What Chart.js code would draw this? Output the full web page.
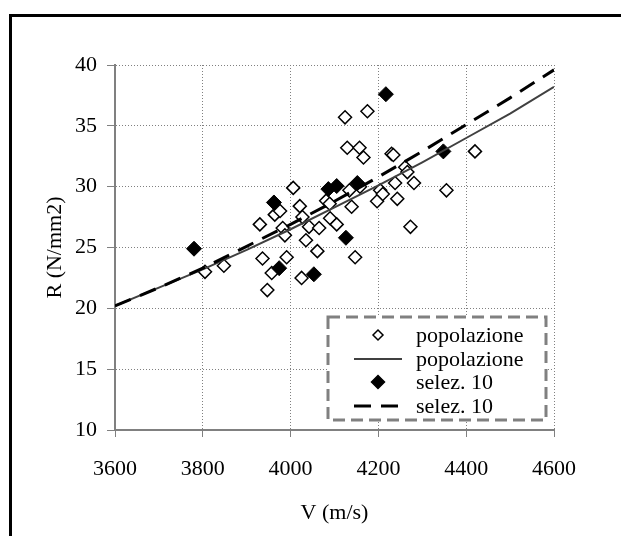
<!DOCTYPE html>
<html>
<head>
<meta charset="utf-8">
<script src="https://cdn.jsdelivr.net/npm/chart.js@4/dist/chart.umd.min.js"></script>
<style>
  html, body { margin: 0; padding: 0; background: #fff; }
  canvas { display: block; }
</style>
</head>
<body>
<canvas id="chartCanvas" width="621" height="536"></canvas>
<script>
// popolazione - open diamonds
const popV = [3805, 3848, 3930, 3936, 3947, 3957, 3964, 3976, 3982, 3987, 3991, 4006, 4021, 4027, 4025,
              4035, 4042, 4061, 4065, 4081, 4089, 4090, 4105, 4124, 4129, 4134, 4139, 4147, 4158, 4157,
              4166, 4175, 4197, 4204, 4210, 4230, 4234, 4238, 4243, 4261, 4266, 4273, 4281, 4355, 4420];
const popR = [23.0, 23.5, 26.9, 24.1, 21.5, 22.9, 27.7, 28.0, 26.6, 26.0, 24.2, 29.9, 28.4, 27.5, 22.5,
              25.6, 26.7, 24.7, 26.6, 28.85, 28.6, 27.4, 26.9, 35.7, 33.2, 29.7, 28.35, 24.2, 30.0, 33.2,
              32.4, 36.2, 28.8, 29.7, 29.4, 32.7, 32.6, 30.3, 29.0, 31.6, 31.2, 26.7, 30.3, 29.7, 32.9];

// selez. 10 - filled diamonds
const selV = [3780, 3962, 3974, 4053, 4086, 4105, 4126, 4152, 4217, 4348];
const selR = [24.9, 28.7, 23.3, 22.8, 29.8, 30.05, 25.8, 30.3, 37.6, 32.9];

// trend curves
const curveV = [3600, 3700, 3800, 3900, 4000, 4100, 4200, 4300, 4400, 4500, 4600];
const popCurveR = [20.2, 21.7, 23.2, 24.8, 26.5, 28.3, 30.1, 32.0, 34.0, 36.0, 38.2];
const selCurveR = [20.2, 21.7, 23.3, 25.1, 26.9, 28.8, 30.8, 32.9, 35.1, 37.3, 39.6];

const xTicks = [3600, 3800, 4000, 4200, 4400, 4600];
const yTicks = [10, 15, 20, 25, 30, 35, 40];

const toPoints = (xs, ys) => xs.map((x, i) => ({ x: x, y: ys[i] }));

const FONT = 'Liberation Serif, Times New Roman, serif';

// outer black frame
const framePlugin = {
    id: 'frame',
    beforeDraw(chart) {
        const ctx = chart.ctx;
        ctx.save();
        ctx.fillStyle = '#fff';
        ctx.fillRect(0, 0, chart.width, chart.height);
        ctx.strokeStyle = '#000';
        ctx.lineWidth = 3;
        ctx.strokeRect(10.5, 15.5, 700, 700);
        ctx.restore();
    }
};

// legend box with dashed grey border, inside the plot
const legendBox = {
    id: 'legendBox',
    afterDraw(chart) {
        const ctx = chart.ctx;
        const ds = chart.data.datasets;
        const entries = [ds[2], ds[0], ds[3], ds[1]];
        ctx.save();
        ctx.fillStyle = '#fff';
        ctx.fillRect(328, 317, 218, 103);
        ctx.strokeStyle = '#808080';
        ctx.lineWidth = 3;
        ctx.setLineDash([12, 6]);
        ctx.strokeRect(328, 317, 218, 103);
        ctx.setLineDash([]);

        const rows = [335, 359, 382, 406];
        const cx = 378;
        entries.forEach((d, i) => {
            const y = rows[i];
            if (d.showLine) {
                ctx.strokeStyle = d.borderColor;
                ctx.lineWidth = d.borderWidth;
                ctx.setLineDash(d.borderDash || []);
                ctx.beginPath();
                ctx.moveTo(354, y);
                ctx.lineTo(402, y);
                ctx.stroke();
                ctx.setLineDash([]);
            } else {
                const r = i === 0 ? 5 : 6.5;
                ctx.beginPath();
                ctx.moveTo(cx - r, y);
                ctx.lineTo(cx, y - r);
                ctx.lineTo(cx + r, y);
                ctx.lineTo(cx, y + r);
                ctx.closePath();
                ctx.fillStyle = d.backgroundColor;
                ctx.fill();
                ctx.strokeStyle = '#000';
                ctx.lineWidth = 1.5;
                ctx.stroke();
            }
            ctx.fillStyle = '#000';
            ctx.font = '22px ' + FONT;
            ctx.textAlign = 'left';
            ctx.textBaseline = 'middle';
            ctx.fillText(d.label, 416, y + 1);
        });
        ctx.restore();
    }
};

const ctx = document.getElementById('chartCanvas').getContext('2d');
const chart = new Chart(ctx, {
    type: 'scatter',
    data: {
        datasets: [
            {
                label: 'popolazione',
                data: toPoints(curveV, popCurveR),
                showLine: true,
                borderColor: '#404040',
                borderWidth: 2,
                pointRadius: 0,
                order: 1
            },
            {
                label: 'selez. 10',
                data: toPoints(curveV, selCurveR),
                showLine: true,
                borderColor: '#000',
                borderWidth: 3,
                borderDash: [17, 10],
                pointRadius: 0,
                order: 0
            },
            {
                label: 'popolazione',
                data: toPoints(popV, popR),
                pointStyle: 'rectRot',
                pointRadius: 6.5,
                borderColor: '#000',
                borderWidth: 1.5,
                backgroundColor: '#fff',
                order: 3
            },
            {
                label: 'selez. 10',
                data: toPoints(selV, selR),
                pointStyle: 'rectRot',
                pointRadius: 7.5,
                borderColor: '#000',
                borderWidth: 1,
                backgroundColor: '#000',
                order: 2
            }
        ]
    },
    options: {
        responsive: false,
        animation: false,
        events: [],
        devicePixelRatio: 1,
        layout: { padding: { top: 65, right: 67, left: 0, bottom: 0 } },
        plugins: {
            legend: { display: false },
            tooltip: { enabled: false }
        },
        scales: {
            x: {
                type: 'linear',
                min: 3600,
                max: 4600,
                afterBuildTicks: (scale) => { scale.ticks = xTicks.map(v => ({ value: v })); },
                afterFit: (scale) => { scale.height = 106; },
                ticks: {
                    color: '#000',
                    font: { family: FONT, size: 22 },
                    padding: 19,
                    maxRotation: 0,
                    callback: (value) => String(value)
                },
                grid: {
                    color: '#808080',
                    lineWidth: 1,
                    tickLength: 7,
                    tickColor: '#808080',
                    tickWidth: 1
                },
                border: { color: '#808080', width: 2, dash: [1, 2] },
                title: {
                    display: true,
                    text: 'V (m/s)',
                    color: '#000',
                    font: { family: FONT, size: 22 },
                    padding: { top: 0, bottom: 10 }
                }
            },
            y: {
                type: 'linear',
                min: 10,
                max: 40,
                afterBuildTicks: (scale) => { scale.ticks = yTicks.map(v => ({ value: v })); },
                afterFit: (scale) => { scale.width = 115; },
                ticks: {
                    color: '#000',
                    font: { family: FONT, size: 22 },
                    padding: 10,
                    callback: (value) => String(value)
                },
                grid: {
                    color: '#808080',
                    lineWidth: 1,
                    tickLength: 8,
                    tickColor: '#808080',
                    tickWidth: 1
                },
                border: { color: '#808080', width: 2, dash: [1, 2] },
                title: {
                    display: true,
                    text: 'R (N/mm2)',
                    color: '#000',
                    font: { family: FONT, size: 22 },
                    padding: { top: 42, bottom: 0 }
                }
            }
        }
    },
    plugins: [framePlugin, legendBox]
});
</script>
</body>
</html>
